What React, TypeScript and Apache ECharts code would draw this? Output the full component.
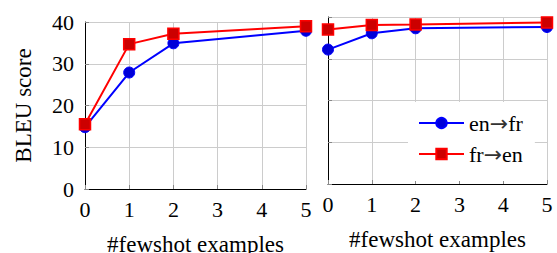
import React, { useEffect, useRef } from "react";
import * as echarts from "echarts";

const xShots = [0, 1, 2, 5];
const leftEnFr = [14.8, 27.9, 34.9, 37.9];
const leftFrEn = [15.5, 34.7, 37.2, 39.0];
const rightEnFr = [32.2, 36.1, 37.3, 37.6];
const rightFrEn = [37.0, 38.1, 38.2, 38.7];
const xTicks = [0, 1, 2, 3, 4, 5];
const yTicks = [0, 10, 20, 30, 40];
const seriesNames = ["en→fr", "fr→en"];

const FONT = "'Liberation Serif', 'DejaVu Serif', serif";
const GRID_COLOR = "#cccccc";

function pairs(xs: number[], ys: number[]) {
  return xs.map((x, i) => [x, ys[i]]);
}

export default function App() {
  const ref = useRef<HTMLDivElement>(null);
  useEffect(() => {
    if (!ref.current) return;
    const chart = echarts.init(ref.current, null, { renderer: "svg" });
    const xAxisBase = (gridIndex: number) => ({
      type: "value" as const,
      gridIndex,
      min: xTicks[0],
      max: xTicks[xTicks.length - 1],
      interval: 1,
      name: "#fewshot examples",
      nameLocation: "middle" as const,
      nameGap: 44,
      nameTextStyle: { fontFamily: FONT, fontSize: 23, color: "#000" },
      axisLine: { show: true, lineStyle: { color: "#000", width: 1 } },
      axisTick: { show: true, inside: true, length: 4, lineStyle: { color: "#888" } },
      axisLabel: { fontFamily: FONT, fontSize: 22, color: "#000", margin: 9 },
      splitLine: { show: true, lineStyle: { color: GRID_COLOR, width: 1 } },
    });
    const yAxisBase = (gridIndex: number, showLabels: boolean) => ({
      type: "value" as const,
      gridIndex,
      min: yTicks[0],
      max: yTicks[yTicks.length - 1],
      interval: 10,
      name: showLabels ? "BLEU score" : "",
      nameLocation: "middle" as const,
      nameGap: 50,
      nameTextStyle: { fontFamily: FONT, fontSize: 23, color: "#000" },
      axisLine: { show: true, lineStyle: { color: "#000", width: 1 } },
      axisTick: { show: true, inside: true, length: 4, lineStyle: { color: "#888" } },
      axisLabel: { show: showLabels, fontFamily: FONT, fontSize: 22, color: "#000", margin: 11 },
      splitLine: { show: true, lineStyle: { color: GRID_COLOR, width: 1 } },
    });
    const blue = {
      type: "line" as const,
      symbol: "circle",
      symbolSize: 11,
      lineStyle: { color: "#0000ff", width: 2 },
      itemStyle: { color: "#0000d8", borderColor: "#0000ff", borderWidth: 1 },
    };
    const red = {
      type: "line" as const,
      symbol: "rect",
      symbolSize: 11,
      lineStyle: { color: "#ff0000", width: 2 },
      itemStyle: { color: "#cc0000", borderColor: "#ff0000", borderWidth: 1.5 },
    };
    chart.setOption({
      animation: false,
      textStyle: { fontFamily: FONT },
      grid: [
        { left: 85, right: 251, top: 22, bottom: 64, containLabel: false, outerBoundsMode: "none" },
        { left: 328, right: 10, top: 17, bottom: 69, containLabel: false, outerBoundsMode: "none" },
      ],
      xAxis: [xAxisBase(0), xAxisBase(1)],
      yAxis: [yAxisBase(0, true), yAxisBase(1, false)],
      legend: {
        data: seriesNames,
        orient: "vertical",
        left: 408,
        top: 102,
        padding: [10, 12, 16, 10],
        itemWidth: 45,
        itemHeight: 13,
        itemGap: 9,
        backgroundColor: "#ffffff",
        formatter: (name: string) => {
          const parts = name.split("→");
          return `{t|${parts[0]}}{a|→}{t|${parts[1]}}`;
        },
        textStyle: {
          fontFamily: FONT,
          fontSize: 22,
          color: "#000",
          lineHeight: 22,
          rich: {
            t: { fontFamily: FONT, fontSize: 22, color: "#000", lineHeight: 22 },
            a: { fontFamily: "'DejaVu Sans', sans-serif", fontSize: 22, color: "#333", lineHeight: 22 },
          },
        },
      },
      series: [
        { ...blue, name: seriesNames[0], xAxisIndex: 0, yAxisIndex: 0, data: pairs(xShots, leftEnFr), z: 2 },
        { ...red, name: seriesNames[1], xAxisIndex: 0, yAxisIndex: 0, data: pairs(xShots, leftFrEn), z: 3 },
        { ...blue, name: seriesNames[0], xAxisIndex: 1, yAxisIndex: 1, data: pairs(xShots, rightEnFr), z: 2 },
        { ...red, name: seriesNames[1], xAxisIndex: 1, yAxisIndex: 1, data: pairs(xShots, rightFrEn), z: 3 },
      ],
    });
    return () => chart.dispose();
  }, []);
  return <div ref={ref} style={{ width: 557, height: 253, position: "absolute", left: 0, top: 0 }} />;
}
